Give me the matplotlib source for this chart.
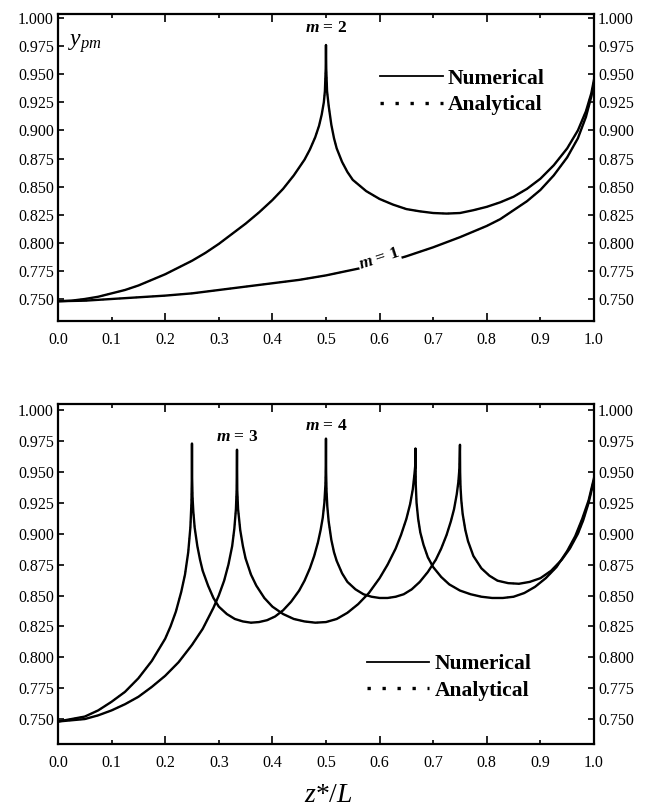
import numpy as np
import matplotlib
matplotlib.use("Agg")
import matplotlib.pyplot as plt
from matplotlib.lines import Line2D
from matplotlib.ticker import MultipleLocator, FormatStrFormatter

plt.rcParams['font.family'] = ['Liberation Serif', 'DejaVu Serif']
plt.rcParams['mathtext.fontset'] = 'custom'
plt.rcParams['mathtext.rm'] = 'Liberation Serif'
plt.rcParams['mathtext.it'] = 'Liberation Serif:italic'
plt.rcParams['mathtext.bf'] = 'Liberation Serif:bold'
plt.rcParams['mathtext.bfit'] = 'Liberation Serif:italic:bold'

# values: z*/L and y_pm for each mode
m1_z = [0.0, 0.05, 0.1, 0.15, 0.2, 0.25, 0.3, 0.35, 0.4, 0.45, 0.5, 0.55, 0.6, 0.65, 0.7, 0.75,
        0.8, 0.825, 0.85, 0.875, 0.9, 0.925, 0.95, 0.97, 0.985, 0.995, 1.0]
m1_y = [0.748, 0.7485, 0.750, 0.7515, 0.753, 0.755, 0.758, 0.761, 0.764, 0.767, 0.771, 0.776, 0.781, 0.788, 0.796, 0.805,
        0.815, 0.821, 0.829, 0.837, 0.847, 0.860, 0.876, 0.893, 0.912, 0.930, 0.942]

m2_z = [0.0, 0.025, 0.05, 0.075, 0.1, 0.125, 0.15, 0.175, 0.2, 0.225, 0.25, 0.275, 0.3, 0.325, 0.35, 0.375,
        0.4, 0.42, 0.44, 0.46, 0.47, 0.48, 0.487, 0.492, 0.496, 0.498, 0.4995, 0.5,
        0.5005, 0.502, 0.505, 0.51, 0.515, 0.52, 0.53, 0.54, 0.55, 0.575, 0.6, 0.625, 0.65, 0.675,
        0.7, 0.725, 0.75, 0.775, 0.8, 0.825, 0.85, 0.875, 0.9, 0.925, 0.95, 0.97, 0.985, 0.995, 1.0]
m2_y = [0.748, 0.7485, 0.750, 0.752, 0.755, 0.758, 0.762, 0.767, 0.772, 0.778, 0.784, 0.791, 0.799, 0.808, 0.817, 0.827,
        0.838, 0.848, 0.860, 0.874, 0.883, 0.894, 0.904, 0.914, 0.925, 0.935, 0.955, 0.976,
        0.955, 0.935, 0.922, 0.905, 0.893, 0.884, 0.872, 0.863, 0.856, 0.846, 0.839, 0.834, 0.830, 0.828,
        0.8265, 0.826, 0.8265, 0.829, 0.832, 0.836, 0.841, 0.848, 0.857, 0.869, 0.884, 0.900, 0.917, 0.933, 0.945]

m3_z = [0.0, 0.025, 0.05, 0.075, 0.1, 0.125, 0.15, 0.175, 0.2, 0.225, 0.25, 0.27, 0.29, 0.3, 0.31, 0.318,
        0.325, 0.329, 0.332, 0.3333, 0.334,
        0.3345, 0.336, 0.34, 0.345, 0.35, 0.36, 0.37, 0.385, 0.4, 0.42, 0.44, 0.46, 0.48, 0.5, 0.52,
        0.54, 0.56, 0.58, 0.6, 0.615, 0.63, 0.64, 0.65, 0.657, 0.662, 0.665, 0.6665, 0.667,
        0.6675, 0.669, 0.672, 0.676, 0.682, 0.69, 0.7, 0.715, 0.73, 0.75, 0.77, 0.79, 0.81, 0.83,
        0.85, 0.87, 0.89, 0.91, 0.93, 0.95, 0.965, 0.978, 0.99, 1.0]
m3_y = [0.748, 0.749, 0.750, 0.753, 0.757, 0.762, 0.768, 0.776, 0.785, 0.796, 0.810, 0.823, 0.840, 0.850, 0.862, 0.875,
        0.890, 0.904, 0.920, 0.935, 0.968,
        0.935, 0.920, 0.903, 0.890, 0.880, 0.867, 0.858, 0.848, 0.841, 0.835, 0.831, 0.829, 0.828, 0.8285, 0.831,
        0.836, 0.843, 0.852, 0.864, 0.875, 0.888, 0.899, 0.912, 0.924, 0.936, 0.948, 0.955, 0.969,
        0.940, 0.925, 0.912, 0.901, 0.891, 0.881, 0.873, 0.865, 0.859, 0.854, 0.851, 0.849, 0.848, 0.848,
        0.849, 0.852, 0.857, 0.864, 0.873, 0.886, 0.898, 0.912, 0.927, 0.945]

m4_z = [0.0, 0.025, 0.05, 0.075, 0.1, 0.125, 0.15, 0.175, 0.2, 0.21, 0.22, 0.23, 0.237, 0.243, 0.247,
        0.249, 0.2497, 0.25,
        0.2503, 0.251, 0.2525, 0.255, 0.26, 0.265, 0.27, 0.28, 0.29, 0.3, 0.315, 0.33, 0.345, 0.36,
        0.375, 0.39, 0.405, 0.42, 0.435, 0.45, 0.46, 0.47, 0.478, 0.485, 0.49, 0.494, 0.497, 0.499,
        0.4997, 0.5,
        0.5003, 0.501, 0.5025, 0.505, 0.51, 0.515, 0.52, 0.53, 0.54, 0.555, 0.57, 0.585, 0.6, 0.615,
        0.63, 0.645, 0.66, 0.675, 0.69, 0.705, 0.715, 0.725, 0.733, 0.739, 0.744, 0.747, 0.749, 0.75,
        0.7503, 0.751, 0.7525, 0.755, 0.76, 0.765, 0.775, 0.79, 0.805, 0.82, 0.84, 0.86, 0.88, 0.9,
        0.92, 0.94, 0.955, 0.97, 0.98, 0.99, 0.996, 1.0]
m4_y = [0.748, 0.750, 0.752, 0.757, 0.764, 0.772, 0.783, 0.797, 0.815, 0.825, 0.837, 0.853, 0.867, 0.885, 0.905,
        0.925, 0.945, 0.973,
        0.945, 0.930, 0.918, 0.905, 0.890, 0.879, 0.870, 0.858, 0.848, 0.841, 0.835, 0.831, 0.829, 0.828,
        0.8285, 0.830, 0.833, 0.838, 0.845, 0.854, 0.862, 0.872, 0.882, 0.893, 0.903, 0.913, 0.925, 0.940,
        0.955, 0.977,
        0.950, 0.935, 0.922, 0.910, 0.895, 0.885, 0.878, 0.868, 0.861, 0.855, 0.851, 0.849, 0.848, 0.848,
        0.849, 0.851, 0.855, 0.861, 0.869, 0.879, 0.888, 0.899, 0.910, 0.920, 0.932, 0.942, 0.953, 0.972,
        0.950, 0.938, 0.927, 0.916, 0.903, 0.894, 0.882, 0.872, 0.866, 0.862, 0.860, 0.8595, 0.861, 0.864,
        0.870, 0.879, 0.888, 0.900, 0.911, 0.925, 0.936, 0.943]

y_ticks = [0.750, 0.775, 0.800, 0.825, 0.850, 0.875, 0.900, 0.925, 0.950, 0.975, 1.000]


def style_axes(ax, ylim):
    ax.set_xlim(0, 1.0)
    ax.set_ylim(*ylim)
    ax.set_yticks(y_ticks)
    ax.yaxis.set_major_formatter(FormatStrFormatter('%.3f'))
    ax.xaxis.set_major_locator(MultipleLocator(0.2))
    ax.xaxis.set_minor_locator(MultipleLocator(0.1))
    ax.xaxis.set_major_formatter(FormatStrFormatter('%.1f'))
    ax.xaxis.set_minor_formatter(FormatStrFormatter('%.1f'))
    ax.tick_params(which='both', direction='in', top=True, right=True,
                   labelright=True, labelsize=11.5, width=1.2)
    ax.tick_params(which='major', length=6)
    ax.tick_params(which='minor', length=3)
    ax.tick_params(axis='x', which='both', pad=8)
    ax.tick_params(axis='y', length=4, pad=3)
    for s in ax.spines.values():
        s.set_linewidth(1.6)


def draw_pair(ax, z, y):
    ax.plot(z, y, color='black', lw=1.7, solid_joinstyle='round')
    ax.plot(z, y, color='black', lw=1.0, ls=(0, (1, 3)))


def add_legend(ax, x, y):
    handles = [Line2D([], [], color='black', lw=1.3),
               Line2D([], [], color='black', lw=2.4, ls=(0, (1, 3.5)))]
    ax.legend(handles, ['Numerical', 'Analytical'], loc='upper left', bbox_to_anchor=(x, y),
              frameon=False, handlelength=2.9, handletextpad=0.25, labelspacing=0.3,
              borderaxespad=0, prop={'family': 'Liberation Serif', 'weight': 'bold', 'size': 15.5})


fig = plt.figure(figsize=(6.5, 8.08), dpi=100)
ax1 = fig.add_axes([0.0892, 0.6027, 0.8246, 0.380])
ax2 = fig.add_axes([0.0892, 0.0792, 0.8246, 0.4208])

# top panel
draw_pair(ax1, m1_z, m1_y)
draw_pair(ax1, m2_z, m2_y)
style_axes(ax1, (0.7304, 1.0036))
add_legend(ax1, 0.585, 0.85)
ax1.text(0.018, 0.905, r'$y_{pm}$', transform=ax1.transAxes, fontsize=17, ha='left', va='center')
ax1.text(0.5, 0.991, r'$\mathbfit{m}$ = 2', fontsize=12.5, weight='bold', ha='center', va='center')
ax1.text(0.599, 0.786, r'$\mathbfit{m}$ = 1', fontsize=12.5, weight='bold', ha='center', va='center',
         rotation=18, bbox=dict(facecolor='white', edgecolor='none', pad=0.5))

# bottom panel
draw_pair(ax2, m3_z, m3_y)
draw_pair(ax2, m4_z, m4_y)
style_axes(ax2, (0.7298, 1.005))
add_legend(ax2, 0.56, 0.29)
ax2.text(0.334, 0.978, r'$\mathbfit{m}$ = 3', fontsize=12.5, weight='bold', ha='center', va='center')
ax2.text(0.5, 0.987, r'$\mathbfit{m}$ = 4', fontsize=12.5, weight='bold', ha='center', va='center')

fig.text(0.506, 0.015, r'$z$*/$L$', fontsize=20, ha='center', va='center')

fig.savefig('out.png', dpi=100)
